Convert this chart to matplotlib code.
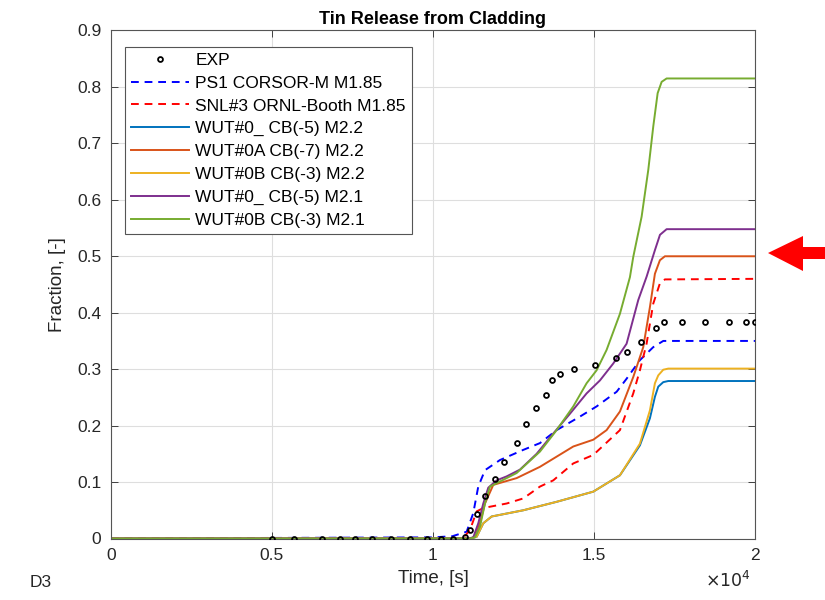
import matplotlib
matplotlib.use("Agg")
import matplotlib.pyplot as plt
from matplotlib.patches import Polygon

plt.rcParams['font.family'] = ['Liberation Sans', 'DejaVu Sans']

# measured release fraction
t_exp = [5000, 5690, 6540, 7110, 7580, 8110, 8710, 9280, 9800, 10240, 10610, 11000,
         11150, 11380, 11620, 11940, 12220, 12600, 12890, 13200, 13500, 13690, 13960,
         14390, 15040, 15700, 16030, 16460, 16920, 17170, 17740, 18450, 19200, 19720, 20000]
f_exp = [0, 0, 0, 0, 0, 0, 0, 0, 0, 0, 0, 0.003,
         0.015, 0.044, 0.075, 0.106, 0.135, 0.170, 0.202, 0.231, 0.254, 0.280, 0.291,
         0.300, 0.308, 0.319, 0.330, 0.348, 0.373, 0.383, 0.383, 0.383, 0.383, 0.383, 0.383]

# PS1 CORSOR-M M1.85
t_ps1 = [0, 10000, 10600, 11046, 11252, 11407, 11615, 12081, 12805, 13323, 13841,
         14565, 15083, 15705, 16013, 16427, 16841, 17152, 20000]
f_ps1 = [0, 0.002, 0.004, 0.012, 0.045, 0.092, 0.121, 0.139, 0.157, 0.169, 0.192,
         0.216, 0.234, 0.260, 0.283, 0.316, 0.339, 0.350, 0.350]

# SNL#3 ORNL-Booth M1.85
t_snl = [0, 10800, 11000, 11149, 11357, 11563, 12289, 12805, 13323, 13736, 14358,
         14979, 15807, 16220, 16427, 16634, 16841, 17048, 17204, 20000]
f_snl = [0, 0, 0.005, 0.015, 0.048, 0.054, 0.062, 0.071, 0.092, 0.103, 0.133,
         0.148, 0.192, 0.257, 0.298, 0.345, 0.416, 0.452, 0.459, 0.460]

# WUT#0_ CB(-5) M2.2
t_wut0_22 = [0, 11150, 11357, 11563, 11823, 12805, 13841, 14979, 15807, 16427,
             16738, 16893, 16997, 17152, 17307, 20000]
f_wut0_22 = [0, 0, 0.003, 0.027, 0.039, 0.050, 0.065, 0.083, 0.112, 0.165,
             0.213, 0.251, 0.269, 0.277, 0.279, 0.279]

# WUT#0A CB(-7) M2.2
t_wut0a_22 = [0, 11149, 11304, 11459, 11615, 11873, 12599, 13323, 14358, 14979,
              15392, 15807, 16220, 16531, 16738, 16893, 17048, 17204, 20000]
f_wut0a_22 = [0, 0, 0.003, 0.027, 0.062, 0.095, 0.107, 0.127, 0.163, 0.175,
              0.192, 0.225, 0.286, 0.339, 0.410, 0.469, 0.493, 0.500, 0.500]

# WUT#0B CB(-3) M2.2
t_wut0b_22 = [0, 11150, 11357, 11563, 11823, 12805, 13841, 14979, 15807, 16427,
              16738, 16893, 16997, 17152, 17307, 20000]
f_wut0b_22 = [0, 0, 0.003, 0.027, 0.039, 0.050, 0.065, 0.083, 0.112, 0.168,
              0.227, 0.275, 0.289, 0.299, 0.301, 0.301]

# WUT#0_ CB(-5) M2.1
t_wut0_21 = [0, 11100, 11252, 11408, 11563, 11718, 11977, 12287, 12701, 13219,
             13736, 14254, 14771, 15185, 15599, 16013, 16376, 16636, 16894, 17050,
             17257, 20000]
f_wut0_21 = [0, 0, 0.002, 0.027, 0.062, 0.090, 0.103, 0.110, 0.122, 0.150,
             0.186, 0.221, 0.257, 0.280, 0.310, 0.345, 0.4225, 0.464, 0.511, 0.538,
             0.548, 0.548]

# WUT#0B CB(-3) M2.1
t_wut0b_21 = [0, 11150, 11304, 11460, 11615, 11770, 12081, 12599, 13323, 13841,
              14358, 14771, 15082, 15392, 15806, 16117, 16221, 16480, 16687, 16842,
              16978, 17102, 17257, 20000]
f_wut0b_21 = [0, 0, 0.002, 0.021, 0.062, 0.092, 0.101, 0.116, 0.154, 0.192,
              0.234, 0.275, 0.298, 0.334, 0.398, 0.463, 0.499, 0.570, 0.653, 0.730,
              0.789, 0.809, 0.815, 0.815]

x_ticks = [0, 5000, 10000, 15000, 20000]
x_tick_labels = ['0', '0.5', '1', '1.5', '2']
y_ticks = [0, 0.1, 0.2, 0.3, 0.4, 0.5, 0.6, 0.7, 0.8, 0.9]
y_tick_labels = ['0', '0.1', '0.2', '0.3', '0.4', '0.5', '0.6', '0.7', '0.8', '0.9']

fig = plt.figure(figsize=(8.25, 6), dpi=100)
ax = fig.add_axes([0.1345, 0.1025, 0.7806, 0.8467])

lw = 1.4
ax.plot(t_exp, f_exp, 'o', mfc='none', mec='black', ms=3.5, mew=1.3, label='EXP', zorder=5)
ax.plot(t_ps1, f_ps1, '--', color='#0000FF', lw=lw, dashes=(4, 3), label='PS1 CORSOR-M M1.85')
ax.plot(t_snl, f_snl, '--', color='#FF0000', lw=lw, dashes=(4, 3), label='SNL#3 ORNL-Booth M1.85')
ax.plot(t_wut0_22, f_wut0_22, color='#0072BD', lw=lw, label='WUT#0_ CB(-5) M2.2')
ax.plot(t_wut0a_22, f_wut0a_22, color='#D95319', lw=lw, label='WUT#0A CB(-7) M2.2')
ax.plot(t_wut0b_22, f_wut0b_22, color='#EDB120', lw=lw, label='WUT#0B CB(-3) M2.2')
ax.plot(t_wut0_21, f_wut0_21, color='#7E2F8E', lw=lw, label='WUT#0_ CB(-5) M2.1')
ax.plot(t_wut0b_21, f_wut0b_21, color='#77AC30', lw=lw, label='WUT#0B CB(-3) M2.1')

ax.set_xlim(0, 20000)
ax.set_ylim(0, 0.9)
ax.set_xticks(x_ticks)
ax.set_xticklabels(x_tick_labels)
ax.set_yticks(y_ticks)
ax.set_yticklabels(y_tick_labels)
ax.tick_params(direction='in', top=True, right=True, labelsize=12.5,
               colors='#262626', length=5, width=0.6, pad=7)
for sp in ax.spines.values():
    sp.set_color('#555555')
    sp.set_linewidth(0.8)
ax.grid(True, color='#dedede', linewidth=0.8)
ax.set_axisbelow(True)

ax.set_title('Tin Release from Cladding', fontsize=13, fontweight='bold', pad=5)
ax.set_xlabel('Time, [s]', fontsize=13.5, color='#262626', labelpad=5)
ax.set_ylabel('Fraction, [-]', fontsize=13.5, color='#262626', labelpad=8)

leg = ax.legend(loc='upper left', bbox_to_anchor=(0.0217, 0.968), borderaxespad=0,
                fontsize=12.5, handlelength=3.35, handletextpad=0.35, labelspacing=0.44,
                borderpad=0.35, fancybox=False, framealpha=1, edgecolor='#555555')
leg.get_frame().set_linewidth(0.8)

fig.text(0.91, 0.022, r'$\times10^4$', fontsize=12.5, ha='right', color='#262626')
fig.text(0.036, 0.022, 'D3', fontsize=12.5, ha='left', color='#262626')

# red pointer next to the axes
pts = [(768, 253), (803, 236), (803, 247), (825, 247), (825, 259), (803, 259), (803, 271)]
arrow = Polygon([(x / 100, (600 - y) / 100) for x, y in pts], closed=True,
                facecolor='#FF0000', edgecolor='none', transform=fig.dpi_scale_trans)
fig.patches.append(arrow)

fig.savefig('out.png', dpi=100)
